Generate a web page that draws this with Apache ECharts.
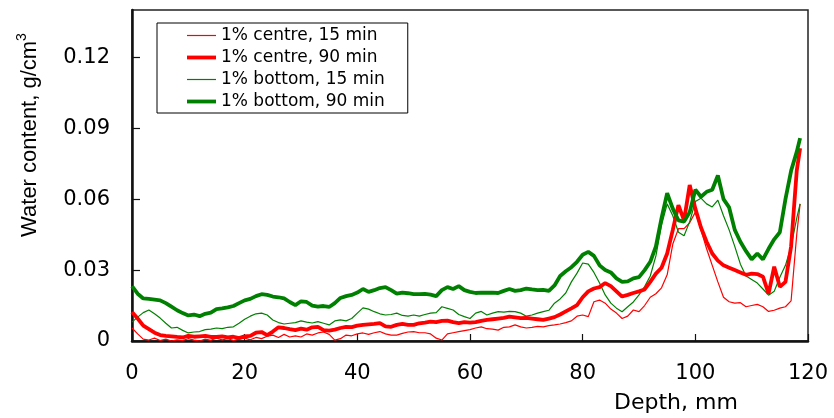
<!DOCTYPE html>
<html>
<head>
<meta charset="utf-8">
<script src="https://cdn.jsdelivr.net/npm/echarts@6/dist/echarts.min.js"></script>
<style>html,body{margin:0;padding:0;background:#fff;}#chart{width:834px;height:418px;}</style>
</head>
<body>
<div id="chart"></div>
<script>
var depth = [0,1,2,3,4,5,6,7,8,9,10,11,12,13,14,15,16,17,18,19,20,21,22,23,24,25,26,27,28,29,30,31,32,33,34,35,36,37,38,39,40,41,42,43,44,45,46,47,48,49,50,51,52,53,54,55,56,57,58,59,60,61,62,63,64,65,66,67,68,69,70,71,72,73,74,75,76,77,78,79,80,81,82,83,84,85,86,87,88,89,90,91,92,93,94,95,96,97,98,99,100,101,102,103,104,105,106,107,108,109,110,111,112,113,114,115,116,117,118,118.6];

var centre15 = [0.0055,0.003,0.0008,0.0004,0.0012,0.0002,0.0008,0,0.0005,0.0002,
0.001,0.0004,0,0.0008,0.0003,0.0012,0.0005,0.001,0.0002,0.0008,
0.0012,0.0005,0.0015,0.001,0.002,0.0025,0.0015,0.0028,0.0017,0.0022,
0.0017,0.003,0.0025,0.0034,0.0038,0.0028,0.0004,0.001,0.0025,0.0022,
0.003,0.0034,0.0028,0.0035,0.004,0.003,0.0025,0.0025,0.0032,0.0038,
0.004,0.0035,0.0035,0.003,0.0012,0.0004,0.003,0.0035,0.004,0.0044,
0.0048,0.0055,0.006,0.0052,0.005,0.0046,0.0058,0.006,0.0068,0.006,
0.0055,0.0058,0.0062,0.006,0.0065,0.0068,0.0072,0.0078,0.0085,0.0105,
0.011,0.0103,0.0166,0.0173,0.016,0.0135,0.0118,0.0095,0.0105,0.0131,
0.0124,0.015,0.0185,0.02,0.0225,0.028,0.041,0.0475,0.0475,0.05,
0.0545,0.047,0.039,0.032,0.025,0.0185,0.0166,0.016,0.0162,0.0145,
0.015,0.0155,0.0145,0.0125,0.013,0.0139,0.0145,0.017,0.045,0.058];

var centre90 = [0.0123,0.0095,0.0065,0.005,0.0035,0.0025,0.0022,0.002,0.0017,0.0015,
0.0022,0.0018,0.002,0.0022,0.0017,0.0017,0.002,0.0015,0.0018,0.0012,
0.002,0.0022,0.0035,0.0038,0.0025,0.004,0.0058,0.0055,0.005,0.0046,
0.0052,0.0048,0.0058,0.006,0.0046,0.0044,0.0048,0.0055,0.006,0.0059,
0.0065,0.0068,0.007,0.0072,0.0076,0.0062,0.006,0.0068,0.0072,0.0068,
0.0068,0.0075,0.0078,0.0082,0.008,0.0085,0.0086,0.008,0.0076,0.008,
0.0078,0.008,0.0085,0.0089,0.0092,0.0095,0.0098,0.0103,0.01,0.0097,
0.0098,0.0095,0.0092,0.0089,0.0095,0.0101,0.0112,0.0125,0.0138,0.0152,
0.0185,0.021,0.0222,0.0228,0.0245,0.0232,0.021,0.0188,0.0195,0.0203,
0.021,0.0218,0.025,0.0285,0.031,0.037,0.047,0.0575,0.051,0.066,
0.056,0.048,0.042,0.037,0.034,0.032,0.031,0.03,0.029,0.028,
0.0285,0.0283,0.0272,0.02,0.0314,0.0229,0.025,0.04,0.072,0.0815];

var bottom15 = [0.008,0.0101,0.012,0.0131,0.0115,0.0097,0.0075,0.0055,0.0058,0.0045,
0.0034,0.0038,0.004,0.0048,0.005,0.0055,0.0052,0.0058,0.006,0.0075,
0.0092,0.0105,0.0115,0.0118,0.011,0.0089,0.0078,0.0072,0.0075,0.0078,
0.0085,0.008,0.0076,0.0082,0.0075,0.0068,0.0085,0.0089,0.0085,0.0095,
0.0118,0.014,0.0135,0.0124,0.0115,0.011,0.0112,0.0118,0.0108,0.0105,
0.011,0.0105,0.0112,0.0118,0.012,0.0145,0.0138,0.0131,0.0112,0.0103,
0.0095,0.0118,0.0125,0.011,0.0118,0.0124,0.0122,0.0125,0.0124,0.0118,
0.0105,0.011,0.0118,0.0124,0.013,0.016,0.0178,0.0203,0.025,0.0287,
0.033,0.0325,0.029,0.0245,0.0195,0.016,0.0139,0.0124,0.0145,0.0165,
0.0195,0.023,0.0275,0.036,0.049,0.058,0.053,0.046,0.0445,0.0505,
0.059,0.0604,0.058,0.0567,0.0596,0.053,0.047,0.04,0.0325,0.0275,
0.026,0.0245,0.022,0.0194,0.021,0.027,0.032,0.04,0.052,0.058];

var bottom90 = [0.0232,0.02,0.018,0.0178,0.0175,0.0172,0.016,0.0145,0.013,0.0118,
0.0108,0.0112,0.0105,0.0115,0.012,0.0135,0.0138,0.0142,0.0148,0.016,
0.0172,0.0178,0.019,0.0198,0.0195,0.0188,0.0185,0.018,0.0165,0.0152,
0.0168,0.0165,0.015,0.0145,0.0148,0.0144,0.016,0.0182,0.019,0.0195,
0.0205,0.022,0.0208,0.0215,0.0224,0.0228,0.0215,0.02,0.0205,0.0202,
0.0198,0.0198,0.0199,0.0196,0.019,0.0215,0.0228,0.022,0.0232,0.0215,
0.0208,0.0203,0.0205,0.0204,0.0205,0.0203,0.0212,0.022,0.0212,0.0215,
0.0222,0.0218,0.0215,0.0216,0.0212,0.0235,0.0275,0.0295,0.0312,0.0335,
0.0365,0.0377,0.036,0.032,0.03,0.029,0.0265,0.025,0.0252,0.0265,
0.027,0.03,0.0335,0.04,0.052,0.0625,0.056,0.051,0.0505,0.0545,
0.064,0.061,0.0631,0.064,0.07,0.06,0.0565,0.047,0.042,0.038,
0.0345,0.037,0.0345,0.039,0.043,0.046,0.06,0.072,0.08,0.0858];

var seriesNames = ['1% centre, 15 min','1% centre, 90 min','1% bottom, 15 min','1% bottom, 90 min'];
var xTicks = [0,20,40,60,80,100,120];
var yTicks = [0,0.03,0.06,0.09,0.12];

function pts(vals){ return depth.map(function(d,i){ return [d, vals[i]]; }); }

var thinIcon = 'path://M0,0H290V12H0Z';
var thickIcon = 'path://M0,0H290V38H0Z';

var chart = echarts.init(document.getElementById('chart'), null, {renderer:'canvas'});
var tickFont = 'DejaVu Sans';
chart.setOption({
  animation:false,
  backgroundColor:'#fff',
  grid:{left:132,right:26,top:10,bottom:77,show:true,borderColor:'#222',borderWidth:1.5,backgroundColor:'transparent'},
  legend:{
    orient:'vertical',left:157,top:23,
    padding:[4,23,3,30],
    itemWidth:29,itemHeight:14,itemGap:5,
    symbolKeepAspect:true,
    borderColor:'#000',borderWidth:1,
    textStyle:{fontFamily:tickFont,fontSize:17,color:'#000'},
    data:[
      {name:seriesNames[0],icon:thinIcon},
      {name:seriesNames[1],icon:thickIcon},
      {name:seriesNames[2],icon:thinIcon},
      {name:seriesNames[3],icon:thickIcon}
    ]
  },
  xAxis:{
    type:'value',min:0,max:120,interval:20,
    axisLine:{show:true,lineStyle:{color:'#111',width:2.5}},
    axisTick:{show:true,inside:true,length:7,lineStyle:{color:'#111',width:1.2}},
    splitLine:{show:false},
    axisLabel:{margin:22,fontFamily:tickFont,fontSize:21,color:'#000',
      formatter:function(v){ return xTicks.indexOf(v)>=0 ? String(v) : ''; }}
  },
  yAxis:{
    type:'value',min:0,max:0.14,interval:0.03,
    axisLine:{show:true,lineStyle:{color:'#111',width:2.5}},
    axisTick:{show:true,inside:true,length:8,lineStyle:{color:'#111',width:1.2}},
    splitLine:{show:false},
    axisLabel:{margin:22,fontFamily:tickFont,fontSize:21,color:'#000',showMaxLabel:false,
      formatter:function(v){
        for(var i=0;i<yTicks.length;i++){ if(Math.abs(yTicks[i]-v)<1e-9){ return v===0?'0':yTicks[i].toFixed(2);} }
        return '';
      }}
  },
  graphic:[
    {type:'text',left:614,top:392,style:{text:'Depth, mm',font:'22px "DejaVu Sans"',fill:'#000'}},
    {type:'text',x:28,y:135,rotation:Math.PI/2,
      style:{text:'{a|Water content, g/cm}{s|3}',align:'center',verticalAlign:'middle',
        rich:{a:{font:'22px "Liberation Sans"',fill:'#000',lineHeight:26,verticalAlign:'bottom'},
              s:{font:'14px "Liberation Sans"',fill:'#000',lineHeight:26,verticalAlign:'top',padding:[0,0,10,0]}}}}
  ],
  series:[
    {name:seriesNames[0],type:'line',symbol:'none',data:pts(centre15),lineStyle:{color:'#ff0000',width:1.2},itemStyle:{color:'#ff0000'},z:2},
    {name:seriesNames[1],type:'line',symbol:'none',data:pts(centre90),lineStyle:{color:'#ff0000',width:3.8},itemStyle:{color:'#ff0000'},z:3},
    {name:seriesNames[2],type:'line',symbol:'none',data:pts(bottom15),lineStyle:{color:'#008000',width:1.2},itemStyle:{color:'#008000'},z:2},
    {name:seriesNames[3],type:'line',symbol:'none',data:pts(bottom90),lineStyle:{color:'#008000',width:3.8},itemStyle:{color:'#008000'},z:3}
  ]
});
</script>
</body>
</html>
